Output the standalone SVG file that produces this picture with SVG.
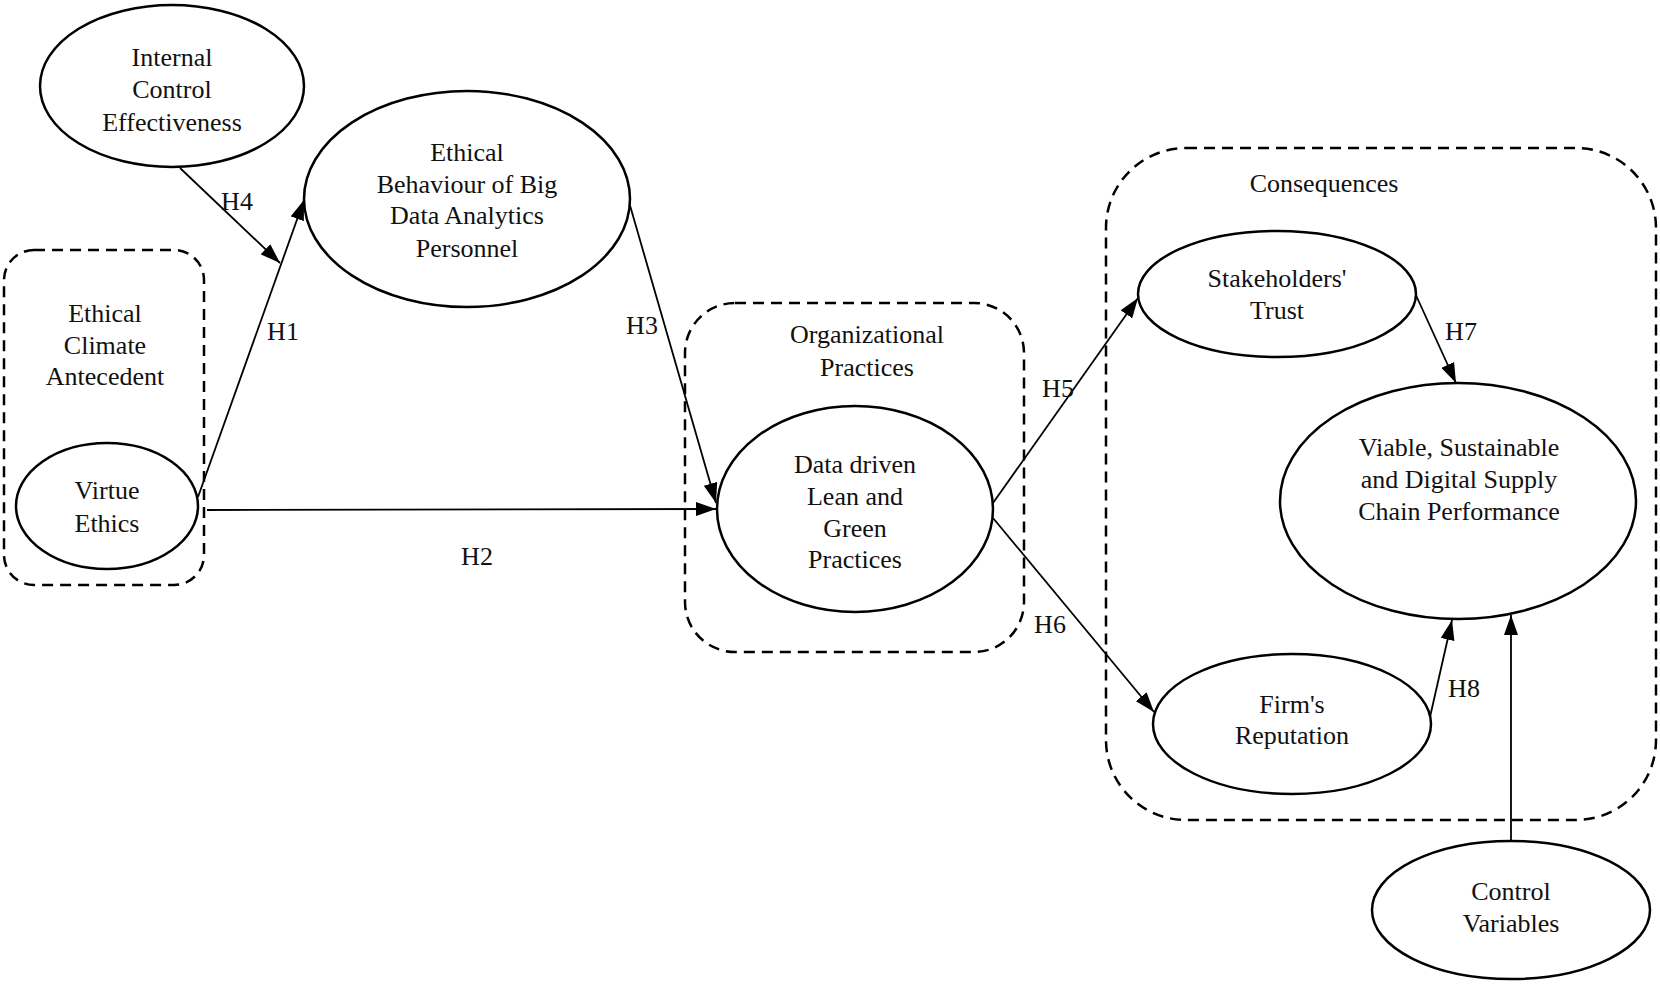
<svg xmlns="http://www.w3.org/2000/svg" width="1660" height="984" viewBox="0 0 1660 984">
<style>
.node{fill:#fff;stroke:#000;stroke-width:2.5}
.grp{fill:none;stroke:#000;stroke-width:2.5;stroke-dasharray:11 7}
.t{font-family:"Liberation Serif","Times New Roman",serif;font-size:26px;text-anchor:middle;fill:#111}
.edge{fill:none;stroke:#000;stroke-width:1.8}
</style>
<defs>
<marker id="arr" viewBox="0 0 20 14" refX="20" refY="7" markerWidth="20" markerHeight="14" markerUnits="userSpaceOnUse" orient="auto">
<path d="M0,0 L20,7 L0,14 z" fill="#000"/>
</marker>
</defs>
<rect width="1660" height="984" fill="#fff"/>
<g id="groups">
<g id="grp-antecedent">
<rect class="grp" x="4" y="250" width="200" height="335" rx="30"/>
<text class="t" x="105" y="322">Ethical</text>
<text class="t" x="105" y="354">Climate</text>
<text class="t" x="105" y="385">Antecedent</text>
</g>
<g id="grp-org">
<rect class="grp" x="685" y="303" width="339" height="349" rx="50"/>
<text class="t" x="867" y="343">Organizational</text>
<text class="t" x="867" y="376">Practices</text>
</g>
<g id="grp-consequences">
<rect class="grp" x="1106" y="148" width="550" height="672" rx="80"/>
<text class="t" x="1324" y="192">Consequences</text>
</g>
</g>
<g id="connectors">
<line class="edge" x1="180" y1="168" x2="280" y2="263" marker-end="url(#arr)"/>
<line class="edge" x1="198" y1="497" x2="304" y2="200" marker-end="url(#arr)"/>
<line class="edge" x1="207" y1="510" x2="716" y2="509" marker-end="url(#arr)"/>
<line class="edge" x1="629" y1="202" x2="716" y2="503" marker-end="url(#arr)"/>
<line class="edge" x1="993" y1="503" x2="1138" y2="298" marker-end="url(#arr)"/>
<line class="edge" x1="993" y1="518" x2="1154" y2="712" marker-end="url(#arr)"/>
<line class="edge" x1="1415" y1="293" x2="1456" y2="383" marker-end="url(#arr)"/>
<line class="edge" x1="1430" y1="717" x2="1452" y2="620" marker-end="url(#arr)"/>
<line class="edge" x1="1511" y1="842" x2="1511" y2="615" marker-end="url(#arr)"/>
<text class="t" x="237" y="210">H4</text>
<text class="t" x="283" y="340">H1</text>
<text class="t" x="477" y="565">H2</text>
<text class="t" x="642" y="334">H3</text>
<text class="t" x="1058" y="397">H5</text>
<text class="t" x="1050" y="633">H6</text>
<text class="t" x="1461" y="340">H7</text>
<text class="t" x="1464" y="697">H8</text>
</g>
<g id="node-internal">
<ellipse class="node" cx="172" cy="86" rx="132" ry="81"/>
<text class="t" x="172" y="66">Internal</text>
<text class="t" x="172" y="98">Control</text>
<text class="t" x="172" y="131">Effectiveness</text>
</g>
<g id="node-ethical">
<ellipse class="node" cx="467" cy="199" rx="163" ry="108"/>
<text class="t" x="467" y="161">Ethical</text>
<text class="t" x="467" y="193">Behaviour of Big</text>
<text class="t" x="467" y="224">Data Analytics</text>
<text class="t" x="467" y="257">Personnel</text>
</g>
<g id="node-virtue">
<ellipse class="node" cx="107" cy="506" rx="91" ry="63"/>
<text class="t" x="107" y="499">Virtue</text>
<text class="t" x="107" y="532">Ethics</text>
</g>
<g id="node-datadriven">
<ellipse class="node" cx="855" cy="509" rx="138" ry="103"/>
<text class="t" x="855" y="473">Data driven</text>
<text class="t" x="855" y="505">Lean and</text>
<text class="t" x="855" y="537">Green</text>
<text class="t" x="855" y="568">Practices</text>
</g>
<g id="node-stakeholders">
<ellipse class="node" cx="1277" cy="294" rx="139" ry="63"/>
<text class="t" x="1277" y="287">Stakeholders'</text>
<text class="t" x="1277" y="319">Trust</text>
</g>
<g id="node-viable">
<ellipse class="node" cx="1458" cy="501" rx="178" ry="118"/>
<text class="t" x="1459" y="456">Viable, Sustainable</text>
<text class="t" x="1459" y="488">and Digital Supply</text>
<text class="t" x="1459" y="520">Chain Performance</text>
</g>
<g id="node-firm">
<ellipse class="node" cx="1292" cy="724" rx="139" ry="70"/>
<text class="t" x="1292" y="713">Firm's</text>
<text class="t" x="1292" y="744">Reputation</text>
</g>
<g id="node-control">
<ellipse class="node" cx="1511" cy="910" rx="139" ry="69"/>
<text class="t" x="1511" y="900">Control</text>
<text class="t" x="1511" y="932">Variables</text>
</g>
</svg>
